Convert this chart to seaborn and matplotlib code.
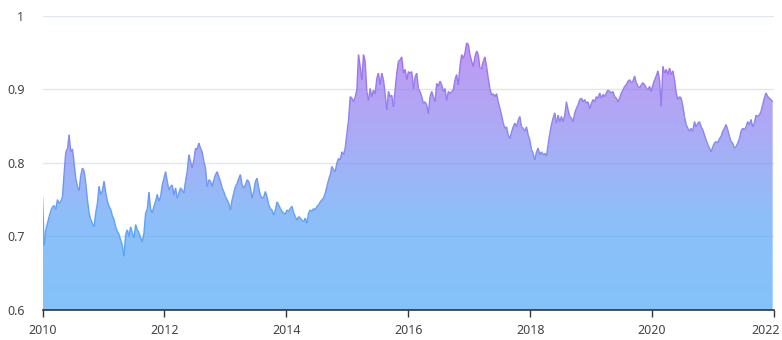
import numpy as np
import pandas as pd
import matplotlib
matplotlib.use("Agg")
import matplotlib.pyplot as plt
import matplotlib.dates as mdates
import matplotlib.transforms as mtransforms
from matplotlib.collections import LineCollection
from matplotlib.colors import LinearSegmentedColormap, Normalize
import seaborn as sns

# ---- data (roughly every 10 days) ----
values_2010_2011 = [0.754, 0.688, 0.709, 0.718, 0.727, 0.735, 0.740, 0.742, 0.737, 0.750,
                    0.745, 0.748, 0.754, 0.786, 0.815, 0.819, 0.838, 0.815, 0.819, 0.800,
                    0.779, 0.768, 0.762, 0.783, 0.793, 0.789, 0.773, 0.750, 0.732, 0.723,
                    0.718, 0.713, 0.732, 0.745, 0.768, 0.757, 0.762, 0.775, 0.760, 0.748,
                    0.741, 0.737, 0.728, 0.723, 0.713, 0.707, 0.703, 0.695, 0.688, 0.673,
                    0.703, 0.709, 0.700, 0.713, 0.705, 0.698, 0.716, 0.709, 0.705, 0.698,
                    0.693, 0.705, 0.732, 0.737, 0.760, 0.737, 0.732, 0.741, 0.748, 0.757,
                    0.748, 0.754]
values_2012_2013 = [0.770, 0.779, 0.788, 0.775, 0.763, 0.768, 0.770, 0.756, 0.766, 0.752,
                    0.759, 0.766, 0.763, 0.759, 0.775, 0.788, 0.811, 0.802, 0.793, 0.804,
                    0.820, 0.818, 0.827, 0.820, 0.815, 0.802, 0.793, 0.768, 0.777, 0.775,
                    0.768, 0.777, 0.784, 0.788, 0.781, 0.775, 0.766, 0.761, 0.754, 0.750,
                    0.745, 0.736, 0.750, 0.759, 0.768, 0.772, 0.779, 0.784, 0.770, 0.766,
                    0.770, 0.777, 0.775, 0.766, 0.752, 0.761, 0.775, 0.779, 0.766, 0.756,
                    0.752, 0.754, 0.761, 0.754, 0.743, 0.738, 0.736, 0.729, 0.736, 0.747,
                    0.743, 0.738]
values_2014_2015 = [0.734, 0.732, 0.730, 0.736, 0.734, 0.738, 0.741, 0.732, 0.727, 0.722,
                    0.727, 0.725, 0.722, 0.720, 0.725, 0.718, 0.732, 0.736, 0.734, 0.738,
                    0.736, 0.741, 0.743, 0.747, 0.750, 0.752, 0.759, 0.768, 0.777, 0.784,
                    0.795, 0.791, 0.788, 0.800, 0.806, 0.804, 0.815, 0.811, 0.820, 0.840,
                    0.858, 0.890, 0.888, 0.883, 0.890, 0.899, 0.947, 0.931, 0.913, 0.947,
                    0.938, 0.897, 0.885, 0.901, 0.890, 0.899, 0.894, 0.915, 0.922, 0.906,
                    0.922, 0.913, 0.894, 0.872, 0.897, 0.890, 0.892, 0.876, 0.899, 0.922,
                    0.938, 0.940]
values_2016_2017 = [0.944, 0.922, 0.927, 0.913, 0.924, 0.922, 0.924, 0.901, 0.917, 0.922,
                    0.901, 0.897, 0.890, 0.881, 0.883, 0.879, 0.867, 0.890, 0.897, 0.890,
                    0.883, 0.908, 0.904, 0.911, 0.906, 0.897, 0.901, 0.885, 0.897, 0.894,
                    0.897, 0.899, 0.913, 0.920, 0.906, 0.931, 0.947, 0.942, 0.949, 0.963,
                    0.961, 0.947, 0.938, 0.931, 0.944, 0.952, 0.947, 0.929, 0.929, 0.938,
                    0.944, 0.931, 0.915, 0.901, 0.892, 0.894, 0.890, 0.894, 0.883, 0.874,
                    0.865, 0.854, 0.847, 0.849, 0.838, 0.833, 0.842, 0.849, 0.854, 0.849,
                    0.858, 0.863]
values_2018_2019 = [0.849, 0.847, 0.843, 0.849, 0.838, 0.831, 0.818, 0.813, 0.804, 0.815,
                    0.820, 0.811, 0.815, 0.811, 0.813, 0.809, 0.825, 0.840, 0.852, 0.861,
                    0.868, 0.854, 0.865, 0.856, 0.863, 0.856, 0.865, 0.883, 0.872, 0.863,
                    0.861, 0.856, 0.868, 0.874, 0.879, 0.886, 0.888, 0.883, 0.886, 0.881,
                    0.883, 0.874, 0.881, 0.886, 0.883, 0.890, 0.888, 0.895, 0.888, 0.893,
                    0.890, 0.895, 0.899, 0.897, 0.895, 0.897, 0.890, 0.888, 0.883, 0.888,
                    0.895, 0.899, 0.904, 0.906, 0.911, 0.913, 0.909, 0.911, 0.918, 0.909,
                    0.904, 0.902]
values_2020_2021 = [0.906, 0.909, 0.906, 0.902, 0.899, 0.904, 0.897, 0.906, 0.913, 0.918,
                    0.925, 0.913, 0.877, 0.931, 0.922, 0.927, 0.920, 0.929, 0.920, 0.925,
                    0.913, 0.895, 0.886, 0.890, 0.888, 0.877, 0.863, 0.852, 0.847, 0.843,
                    0.847, 0.843, 0.856, 0.849, 0.854, 0.856, 0.849, 0.845, 0.838, 0.831,
                    0.825, 0.820, 0.815, 0.822, 0.827, 0.829, 0.827, 0.833, 0.836, 0.843,
                    0.847, 0.852, 0.845, 0.836, 0.829, 0.827, 0.820, 0.822, 0.827, 0.833,
                    0.843, 0.847, 0.845, 0.849, 0.856, 0.852, 0.859, 0.849, 0.854, 0.865,
                    0.863, 0.865, 0.870, 0.879, 0.888, 0.895, 0.890, 0.888, 0.886, 0.883]

start_date = "2010-01-01"
end_date = "2021-12-24"
y_ticks = [0.6, 0.7, 0.8, 0.9, 1.0]
y_tick_labels = ["0.6", "0.7", "0.8", "0.9", "1"]
x_tick_years = [2010, 2012, 2014, 2016, 2018, 2020, 2022]
x_tick_labels = ["2010", "2012", "2014", "2016", "2018", "2020", "2022"]

values = np.array(values_2010_2011 + values_2012_2013 + values_2014_2015 +
                  values_2016_2017 + values_2018_2019 + values_2020_2021)
dates = pd.date_range(start_date, end_date, periods=len(values))
df = pd.DataFrame({"date": dates, "value": values})

# ---- style ----
sns.set_theme(style="white")
plt.rcParams["font.family"] = ["Noto Sans", "DejaVu Sans"]

W, H = 782, 340
fig = plt.figure(figsize=(W / 100, H / 100), dpi=100)
left_px, right_px, top_px, bottom_px = 42.5, 774, 15.7, 310
ax = fig.add_axes([left_px / W, 1 - bottom_px / H,
                   (right_px - left_px) / W, (bottom_px - top_px) / H])

sns.lineplot(data=df, x="date", y="value", ax=ax, color="#6a9ff5", linewidth=1)
line = ax.lines[0]
xy = line.get_xydata()
line.remove()

vmin, vmax = 0.6, 0.965
line_cmap = LinearSegmentedColormap.from_list(
    "bp", ["#4ea9f8", "#5ca4f7", "#8a86f1", "#a56def"], N=256)
norm = Normalize(vmin, vmax)

# gradient fill clipped to the area under the curve
poly = ax.fill_between(xy[:, 0], xy[:, 1], vmin, facecolor="none", edgecolor="none")
grad = np.linspace(0, 1, 256).reshape(-1, 1)
im = ax.imshow(grad, extent=[xy[0, 0], xy[-1, 0], vmin, vmax], origin="lower",
               aspect="auto", cmap=line_cmap, alpha=0.7, zorder=1, interpolation="bilinear")
im.set_clip_path(poly.get_paths()[0], transform=ax.transData)

# gradient-coloured line
segs = np.stack([xy[:-1], xy[1:]], axis=1)
mid = (xy[:-1, 1] + xy[1:, 1]) / 2
lc = LineCollection(segs, colors=line_cmap(norm(mid)), linewidths=1.0, zorder=3)
ax.add_collection(lc)

# axes
x0 = mdates.date2num(pd.Timestamp("2010-01-01"))
x1 = mdates.date2num(pd.Timestamp("2022-01-01"))
ax.set_xlim(x0, x1)
ax.set_ylim(0.6, 1.0)
ax.set_xticks([mdates.date2num(pd.Timestamp(f"{y}-01-01")) for y in x_tick_years])
ax.set_xticklabels(x_tick_labels)
ax.set_yticks(y_ticks)
ax.set_yticklabels(y_tick_labels)
ax.set_xlabel("")
ax.set_ylabel("")

ax.yaxis.grid(True, color="#e0e6f1", linewidth=1, zorder=0)
ax.xaxis.grid(False)
ax.set_axisbelow(True)
for s in ["top", "right", "left"]:
    ax.spines[s].set_visible(False)
ax.spines["bottom"].set_color("#333333")
ax.spines["bottom"].set_linewidth(1.2)
ax.spines["bottom"].set_zorder(5)

ax.tick_params(axis="x", bottom=True, length=5, width=1, color="#333333",
               labelcolor="#444444", labelsize=9, pad=5)
ax.tick_params(axis="y", left=False, length=0, labelcolor="#444444",
               labelsize=9, pad=13)

# keep the last year label inside the figure (as in the reference)
last = ax.get_xticklabels()[-1]
last.set_transform(last.get_transform() +
                   mtransforms.ScaledTranslation(-8 / 100, 0, fig.dpi_scale_trans))

fig.savefig("out.png", dpi=100)
